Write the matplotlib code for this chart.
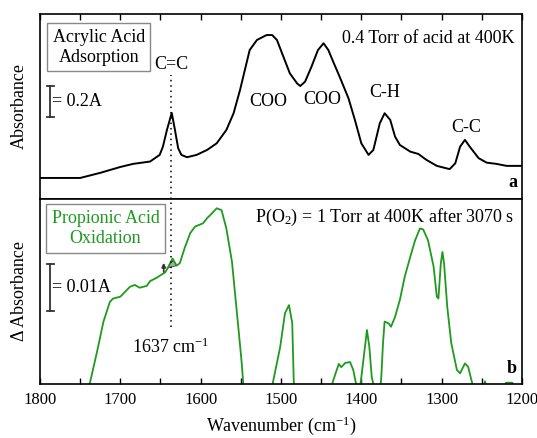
import numpy as np
import matplotlib
matplotlib.use("Agg")
import matplotlib.pyplot as plt
from matplotlib.ticker import MultipleLocator

plt.rcParams['font.family'] = ['Liberation Serif', 'DejaVu Serif']
plt.rcParams['mathtext.default'] = 'regular'

# top panel: acrylic acid adsorption (absorbance, A)
wn_ads = [1800, 1750, 1725, 1700, 1684, 1663, 1651, 1647, 1642, 1636, 1632, 1628,
          1624, 1617, 1605, 1592, 1580, 1568, 1559, 1551, 1545, 1539, 1530, 1518,
          1511, 1505, 1497, 1489, 1480, 1476, 1470, 1462, 1454, 1447, 1441, 1435,
          1427, 1416, 1408, 1400, 1391, 1385, 1377, 1371, 1364, 1358, 1352, 1339,
          1329, 1319, 1306, 1290, 1283, 1277, 1271, 1265, 1254, 1244, 1232, 1219, 1200]
abs_ads = [0.135, 0.135, 0.168, 0.206, 0.226, 0.241, 0.284, 0.337, 0.445, 0.555, 0.445, 0.327,
           0.284, 0.269, 0.284, 0.316, 0.359, 0.445, 0.553, 0.703, 0.832, 0.961, 1.026, 1.058,
           1.058, 1.026, 0.918, 0.811, 0.746, 0.729, 0.757, 0.854, 0.961, 1.005, 0.961, 0.886,
           0.789, 0.650, 0.510, 0.359, 0.284, 0.316, 0.488, 0.553, 0.510, 0.402, 0.348, 0.305,
           0.290, 0.252, 0.213, 0.192, 0.230, 0.337, 0.381, 0.337, 0.263, 0.234, 0.226, 0.213, 0.213]

# bottom panel: propionic acid oxidation (delta absorbance, mA)
wn_ox = [1745, 1738, 1729, 1721, 1713, 1709, 1700, 1696, 1688, 1682, 1676, 1667,
         1663, 1655, 1644, 1641, 1635, 1630, 1626, 1620, 1613, 1607, 1597, 1592,
         1586, 1580, 1574, 1568, 1561, 1557, 1553, 1549, 1547, 1540,
         1515, 1510, 1501, 1495, 1490, 1486, 1484, 1480,
         1440, 1436, 1432, 1428, 1425, 1420, 1414, 1410, 1407, 1404, 1401, 1397,
         1393, 1390, 1387, 1385, 1382,
         1378, 1375, 1373, 1371, 1366, 1363, 1358, 1352, 1346, 1339, 1333, 1327,
         1323, 1317, 1310, 1306, 1304, 1301, 1299, 1297, 1293, 1288, 1281, 1277,
         1271, 1267, 1263, 1260, 1255, 1250, 1246, 1242, 1224, 1220, 1212, 1209, 1200]
dabs_ox = [-5, 0.15, 6.9, 13.3, 17.5, 18.2, 18.6, 19.3, 20.7, 21.1, 20.5, 20.9,
           21.9, 22.6, 23.8, 24.7, 26.7, 25.2, 25.7, 28.9, 32.1, 33.5, 34.2, 35.3,
           36.3, 37.4, 37.0, 33.1, 26.0, 18.9, 11.9, 4.7, 0.15, -5,
           -5, 0.4, 7.9, 15.1, 16.8, 13.0, 0, -5,
           -5, 0.2, 2.3, 4.3, 3.6, 4.5, 4.7, 3.0, 0.4, -1, 0, 5.7,
           11.5, 7.9, 1.5, 0, -5,
           -5, 1.9, 8.7, 13.3, 12.9, 12.2, 14.3, 17.9, 22.8, 27.1, 30.6, 33.1,
           32.9, 30.6, 25.0, 18.6, 18.2, 25.7, 28.1, 25.7, 16.4, 8.7, 3.0, 2.3,
           4.4, 3.7, 0.9, -1, -2, -2, 0.6, -2, -1, 0.3, 0.3, -1, -2]

peak_wn = 1637
green = '#1e9a1e'
fs = 13

fig = plt.figure(figsize=(5.37, 4.38), dpi=100)
ax1 = fig.add_axes([0.0745, 0.546, 0.8975, 0.422])
ax2 = fig.add_axes([0.0745, 0.123, 0.8975, 0.423])

ax1.plot(wn_ads, abs_ads, color='black', lw=1.4)
ax2.plot(wn_ox, dabs_ox, color=green, lw=1.3)

ax1.set_ylim(0, 1.194)
ax2.set_ylim(0, 39.4)
for ax in (ax1, ax2):
    ax.set_xlim(1800, 1200)
    ax.set_yticks([])
    ax.xaxis.set_major_locator(MultipleLocator(100))
    ax.xaxis.set_minor_locator(MultipleLocator(50))
    ax.tick_params(axis='x', which='both', direction='in', length=4, width=1)
    for s in ax.spines.values():
        s.set_linewidth(1.2)

ax1.tick_params(axis='x', which='both', top=True, bottom=False, labelbottom=False)
ax2.tick_params(axis='x', which='both', top=False, bottom=True, labelsize=12, pad=6)

ax1.set_ylabel('Absorbance', fontsize=fs, labelpad=9)
ax2.set_ylabel('Δ Absorbance', fontsize=fs, labelpad=9)
ax2.set_xlabel('Wavenumber (cm$^{-1}$)', fontsize=fs, labelpad=4)

# dotted marker line at 1637
ax1.axvline(peak_wn, ymin=0, ymax=0.67, color='black', ls=(0, (1, 2.5)), lw=1.1)
ax2.axvline(peak_wn, ymin=0.31, ymax=1, color='black', ls=(0, (1, 2.5)), lw=1.1)

# hatched bump at 1637 in bottom panel
wn = np.array(wn_ox)
dv = np.array(dabs_ox)
sel = (wn <= 1641) & (wn >= 1630)
base = np.interp(wn[sel], [1630, 1641], [25.2, 24.7])
ax2.fill_between(wn[sel], base, dv[sel], facecolor='#aaaaaa', edgecolor='#444444',
                 hatch='////', lw=0.6)
ax2.annotate('', xy=(1646, 26.4), xytext=(1646, 23.3),
             arrowprops=dict(arrowstyle='-|>', color='#333333', lw=1.2, mutation_scale=6))

# labels
box = dict(boxstyle='square,pad=0.3', facecolor='white', edgecolor='#888888', lw=1)
ax1.text(0.122, 0.82, 'Acrylic Acid\nAdsorption', transform=ax1.transAxes, ha='center',
         va='center', fontsize=fs, linespacing=1.25, bbox=box)
ax2.text(0.136, 0.84, 'Propionic Acid\nOxidation', transform=ax2.transAxes, ha='center',
         va='center', fontsize=fs, color=green, linespacing=1.25, bbox=box)
ax1.text(0.985, 0.87, '0.4 Torr of acid at 400K', transform=ax1.transAxes, ha='right',
         va='center', fontsize=fs)
ax2.text(0.985, 0.9, 'P(O$_2$) = 1 Torr at 400K after 3070 s', transform=ax2.transAxes,
         ha='right', va='center', fontsize=fs)
ax1.text(0.99, 0.04, 'a', transform=ax1.transAxes, ha='right', va='bottom',
         fontsize=fs, fontweight='bold')
ax2.text(0.99, 0.04, 'b', transform=ax2.transAxes, ha='right', va='bottom',
         fontsize=fs, fontweight='bold')

ax1.text(peak_wn - 1, 0.865, 'C=C', ha='center', va='center', fontsize=fs)
ax1.text(1516, 0.63, 'COO', ha='center', va='center', fontsize=fs)
ax1.text(1449, 0.64, 'COO', ha='center', va='center', fontsize=fs)
ax1.text(1371, 0.69, 'C-H', ha='center', va='center', fontsize=fs)
ax1.text(1270, 0.46, 'C-C', ha='center', va='center', fontsize=fs)
ax2.text(peak_wn, 7.9, '1637 cm$^{-1}$', ha='center', va='center', fontsize=fs)

# scale bars
for ax, y0, y1, lab in ((ax1, 0.529, 0.729, '= 0.2A'), (ax2, 15.5, 25.5, '= 0.01A')):
    ax.plot([1787, 1787], [y0, y1], color='#333333', lw=1.3)
    ax.plot([1791, 1783], [y0, y0], color='#333333', lw=1.3)
    ax.plot([1791, 1783], [y1, y1], color='#333333', lw=1.3)
    ax.text(1785, (y0 + y1) / 2, lab, ha='left', va='center', fontsize=fs)

fig.savefig('out.png', dpi=100)
